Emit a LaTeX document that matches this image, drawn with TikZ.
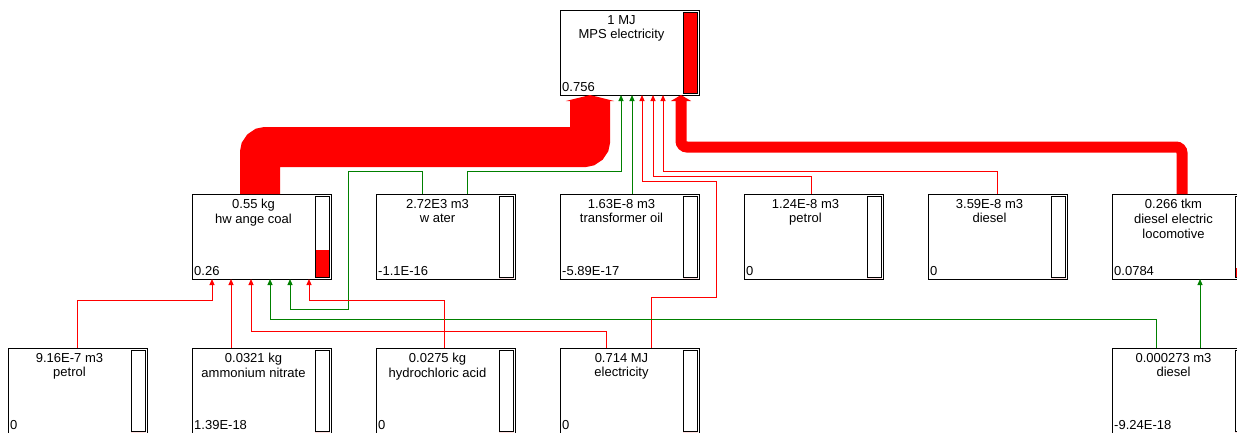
\documentclass[tikz,border=0pt]{standalone}
\usepackage{fontspec}
\setmainfont{Liberation Sans}
\usetikzlibrary{arrows.meta}
\begin{document}
\begin{tikzpicture}[x=1pt,y=-1pt,
    proc/.style={draw, fill=white, line width=1pt, minimum width=139pt, minimum height=85pt, inner sep=0pt, outer sep=0pt, anchor=north west},
    lbl/.style={font=\fontsize{13}{14.7}\selectfont, align=center, inner sep=0pt, anchor=north},
    amount/.style={font=\fontsize{13}{14.7}\selectfont, inner sep=0pt, anchor=base west},
    flowr/.style={draw=red, line width=1pt, -{Triangle[width=5pt,length=6pt]}},
    flowg/.style={flowr, draw=green!50!black},
    fat/.style={draw=red, rounded corners=6pt}]
  \useasboundingbox (0,0) rectangle (1237,432);
  % process boxes with their level bars
  \foreach \nm/\px/\py/\txt/\num/\lev in {
      mps/560/10/{1 MJ\\MPS electricity}/0.756/1,
      coal/192/194/{0.55 kg\\hw ange coal}/0.26/0.34,
      water/376/194/{2.72E3 m3\\w ater}/-1.1E-16/0,
      oil/560/194/{1.63E-8 m3\\transformer oil}/-5.89E-17/0,
      petrolA/744/194/{1.24E-8 m3\\petrol}/0/0,
      dieselA/928/194/{3.59E-8 m3\\diesel}/0/0,
      loco/1112/194/{0.266 tkm\\diesel electric\\locomotive}/0.0784/0.12,
      petrolB/8/348/{9.16E-7 m3\\petrol}/0/0,
      nitrate/192/348/{0.0321 kg\\ammonium nitrate}/1.39E-18/0,
      acid/376/348/{0.0275 kg\\hydrochloric acid}/0/0,
      elec/560/348/{0.714 MJ\\electricity}/0/0,
      dieselB/1112/348/{0.000273 m3\\diesel}/-9.24E-18/0}{
    \node[proc] (\nm) at (\px,\py) {};
    \node[lbl] (\nm-t) at ([xshift=61.5pt,yshift=-5pt]\nm.north west) {\txt};
    \node[amount] (\nm-v) at ([xshift=2pt,yshift=4pt]\nm.south west) {\num};
    \fill[red] ([xshift=123pt,yshift=1.5pt]\nm.south west) rectangle ++(14.5,-\lev*81.5);
    \draw[line width=.8pt] ([xshift=123pt,yshift=-2pt]\nm.north west) rectangle ([xshift=-1.5pt,yshift=1.5pt]\nm.south east);
  }
  % main flows
  \draw[fat, line width=40pt, -{Triangle[width=48pt,length=6pt]}] ([xshift=68pt]coal.north west) -- ++(0,-47) -| ([xshift=30pt]mps.south west);
  \draw[fat, line width=11pt, -{Triangle[width=20pt,length=6pt]}] ([xshift=70pt]loco.north west) -- ++(0,-47) -| ([xshift=121pt]mps.south west);
  % into MPS electricity
  \draw[flowg] ([xshift=91pt]water.north west) -- ++(0,-23) -| ([xshift=61pt]mps.south west);
  \draw[flowg] ([xshift=72pt]oil.north west) -- ([xshift=72pt]mps.south west);
  \draw[flowr] ([xshift=91pt]elec.north west) -- ++(0,-51) -- ++(65,0) -- ++(0,-116) -| ([xshift=82pt]mps.south west);
  \draw[flowr] ([xshift=67pt]petrolA.north west) -- ++(0,-18) -| ([xshift=93pt]mps.south west);
  \draw[flowr] ([xshift=69pt]dieselA.north west) -- ++(0,-23) -| ([xshift=103pt]mps.south west);
  % into hwange coal
  \draw[flowr] ([xshift=69pt]petrolB.north west) -- ++(0,-48) -| ([xshift=20pt]coal.south west);
  \draw[flowr] ([xshift=39pt]nitrate.north west) -- ([xshift=39pt]coal.south west);
  \draw[flowr] ([xshift=46pt]elec.north west) -- ++(0,-17) -| ([xshift=59pt]coal.south west);
  \draw[flowg] ([xshift=44pt]dieselB.north west) -- ++(0,-29) -| ([xshift=78pt]coal.south west);
  \draw[flowg] ([xshift=46pt]water.north west) -- ++(0,-23) -| ++(-74,138) -| ([xshift=98pt]coal.south west);
  \draw[flowr] ([xshift=68pt]acid.north west) -- ++(0,-48) -| ([xshift=117pt]coal.south west);
  % into the locomotive
  \draw[flowg] ([xshift=88pt]dieselB.north west) -- ([xshift=88pt]loco.south west);
\end{tikzpicture}
\end{document}
